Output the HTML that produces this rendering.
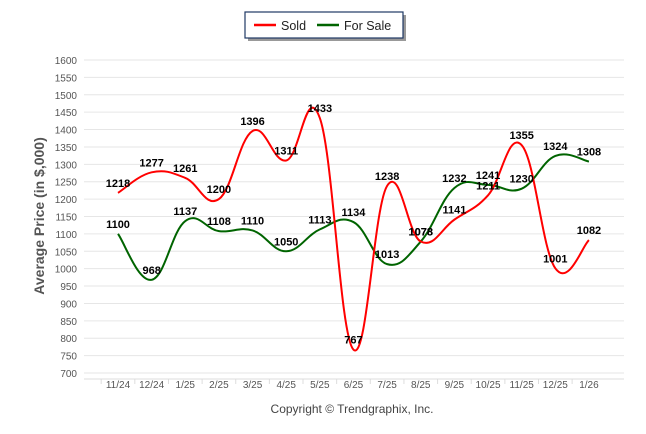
<!DOCTYPE html>
<html><head><meta charset="utf-8"><style>
body{margin:0;background:#fff;}
svg{display:block;font-family:"Liberation Sans",sans-serif;}
</style></head><body>
<svg id="chart" width="646" height="434">
<rect x="248" y="15" width="158" height="26" fill="#999"/>
<rect x="245" y="12" width="158" height="26" fill="#fff" stroke="#1f3864" stroke-width="1.2"/>
<line x1="254" y1="25" x2="276" y2="25" stroke="#f00" stroke-width="2.5"/>
<text x="281" y="30" font-size="12.5" fill="#222">Sold</text>
<line x1="317" y1="25" x2="339" y2="25" stroke="#006400" stroke-width="2.5"/>
<text x="344" y="30" font-size="12.5" fill="#222">For Sale</text>
<text transform="translate(44,216) rotate(-90)" text-anchor="middle" font-size="14" font-weight="bold" fill="#555">Average Price (in $,000)</text>
<text x="352" y="413" text-anchor="middle" font-size="12" fill="#444">Copyright © Trendgraphix, Inc.</text>
<g id="grid"></g><g id="lines"></g><g id="labels"></g>
</svg>
<script>
const categories=["11/24","12/24","1/25","2/25","3/25","4/25","5/25","6/25","7/25","8/25","9/25","10/25","11/25","12/25","1/26"];
const soldValues=[1218,1277,1261,1200,1396,1311,1433,767,1238,1078,1141,1211,1355,1001,1082];
const forSaleValues=[1100,968,1137,1108,1110,1050,1113,1134,1013,1078,1232,1241,1230,1324,1308];
const yTicks=[700,750,800,850,900,950,1000,1050,1100,1150,1200,1250,1300,1350,1400,1450,1500,1550,1600];
const NS="http://www.w3.org/2000/svg";
const yMin=700,yMax=1600,yTop=60,yBot=373,xL=84,xR=624,x0=118,dx=33.64;
function y(v){return yBot-(v-yMin)/(yMax-yMin)*(yBot-yTop);}
function x(i){return x0+i*dx;}
function mk(t,a,p){const e=document.createElementNS(NS,t);for(const k in a)e.setAttribute(k,a[k]);p.appendChild(e);return e;}
const grid=document.getElementById('grid'),lines=document.getElementById('lines'),labels=document.getElementById('labels');
yTicks.forEach(t=>{
 const l=mk('line',{x1:xL,x2:xR,y1:y(t),y2:y(t),stroke:'#e6e6e6'},grid);
 
 
 const tx=mk('text',{x:77,y:y(t)+4,'text-anchor':'end','font-size':'10',fill:'#555'},grid);
 tx.textContent=t;
 
 
});
const ax=mk('line',{x1:xL,x2:xR,y1:yBot+6,y2:yBot+6,stroke:'#ddd'},grid);


categories.forEach((c,i)=>{
 const tk=mk('line',{x1:x(i)-dx/2,x2:x(i)-dx/2,y1:yBot+6,y2:yBot+11,stroke:'#ddd'},grid);
 
 
 const tx=mk('text',{x:x(i),y:388,'text-anchor':'middle','font-size':'10',fill:'#555'},grid);
 tx.textContent=c;
 
 
});
function path(vals){
 const p=vals.map((v,i)=>[x(i),y(v)]);
 let d='M'+p[0][0]+','+p[0][1];
 for(let i=0;i<p.length-1;i++){
  const a=p[Math.max(i-1,0)],b=p[i],c=p[i+1],e=p[Math.min(i+2,p.length-1)];
  const t=0.2;
  d+=' C'+(b[0]+(c[0]-a[0])*t)+','+(b[1]+(c[1]-a[1])*t)+' '+(c[0]-(e[0]-b[0])*t)+','+(c[1]-(e[1]-b[1])*t)+' '+c[0]+','+c[1];
 }
 return d;
}
const gs=mk('path',{d:path(forSaleValues),fill:'none',stroke:'#006400','stroke-width':2},lines);


const rs=mk('path',{d:path(soldValues),fill:'none',stroke:'#f00','stroke-width':2},lines);


[soldValues,forSaleValues].forEach((vals,s)=>{
 vals.forEach((v,i)=>{
  const t=mk('text',{x:x(i),y:y(v)-6,'text-anchor':'middle','font-size':'11','font-weight':'bold',fill:'#000'},labels);
  t.textContent=v;
  
  
 });
});
</script>
</body></html>
